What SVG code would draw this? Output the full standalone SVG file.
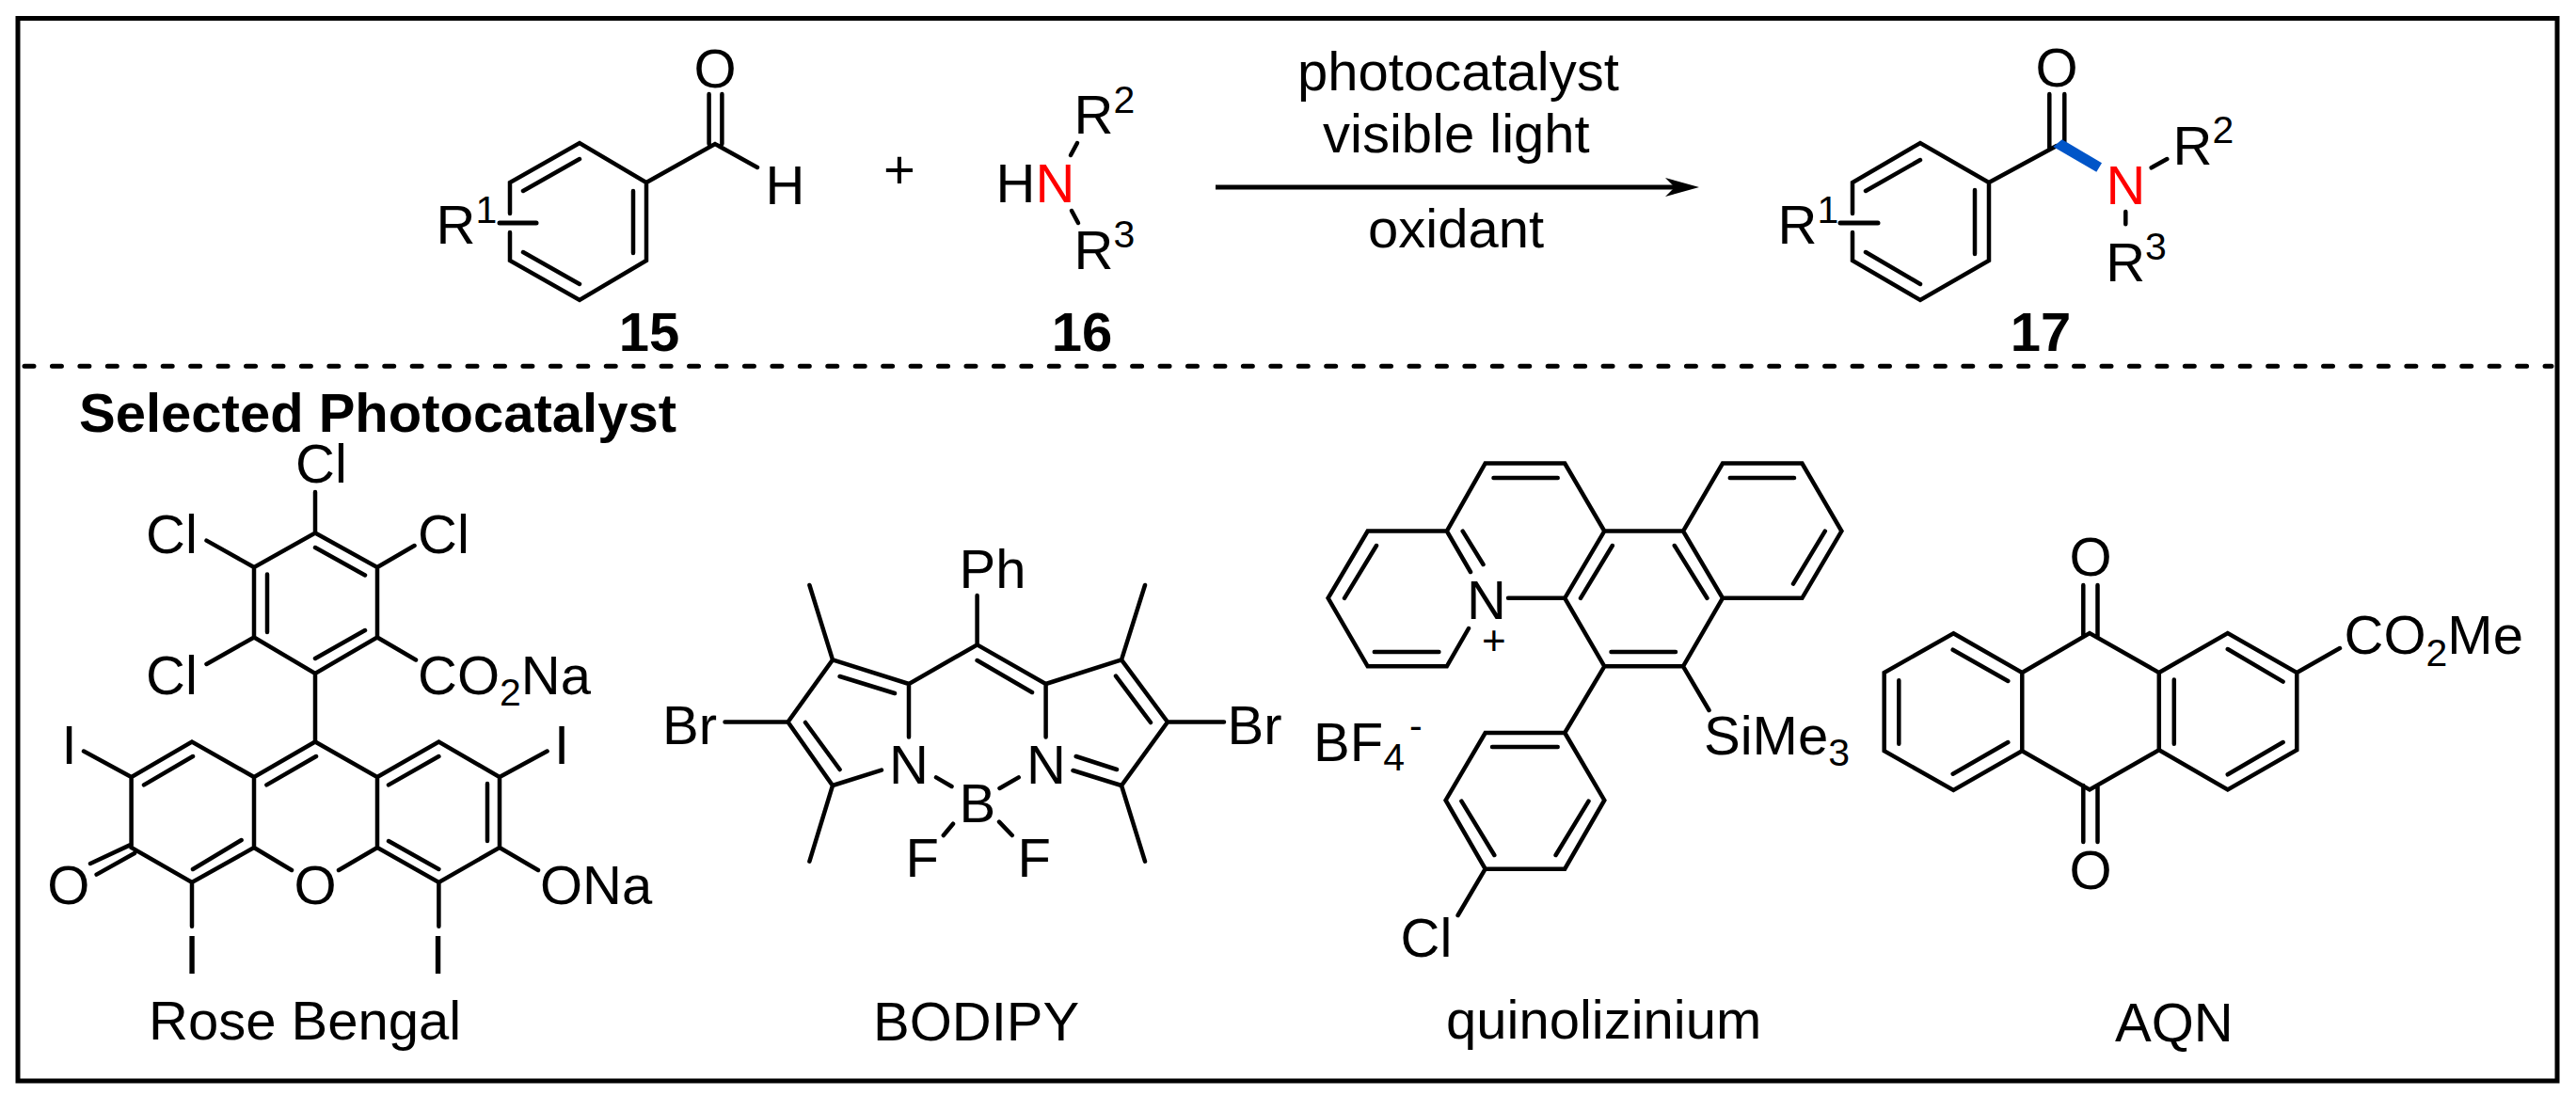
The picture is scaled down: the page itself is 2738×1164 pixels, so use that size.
<svg xmlns="http://www.w3.org/2000/svg" width="2738" height="1164" viewBox="0 0 2738 1164">
<style>
text{font-family:"Liberation Sans",Arial,sans-serif;font-size:58px;fill:#000}
.m{text-anchor:middle}
.s{font-size:41px}
.lab{font-weight:bold;text-anchor:middle}
.red{fill:#f00}
.b{fill:none;stroke:#000;stroke-width:4.5;stroke-linecap:round;stroke-linejoin:miter}
.thick{fill:none;stroke:#000;stroke-width:5;stroke-linecap:round}
</style>
<defs>
<marker id="head" markerUnits="userSpaceOnUse" markerWidth="40" markerHeight="24" refX="10" refY="12" viewBox="0 0 40 24" orient="auto"><path d="M0 2L36 12L0 22L10 12Z" fill="#000"/></marker>
</defs>
<rect width="2738" height="1164" fill="#fff"/>
<g id="frame">
<rect x="19" y="19.5" width="2699" height="1129.5" fill="none" stroke="#000" stroke-width="5"/>
<line x1="26" y1="389.3" x2="2712" y2="389.3" stroke="#000" stroke-width="5" stroke-linecap="round" stroke-dasharray="10 19.44"/>
</g>
<g id="connectors">
<line x1="1292" y1="199" x2="1780" y2="199" stroke="#000" stroke-width="5.2" marker-end="url(#head)"/>
<text x="1379" y="96">photocatalyst</text>
<text x="1406" y="162">visible light</text>
<text x="1454" y="263">oxidant</text>
</g>
<g id="compound-15">
<path class="b" d="M542 227V194L616 152L687 194V277L616 319L542 277V247M556 203L616 169M673 203V269M556 268L616 302M687 194L760 153L805 178M753.6 100V153M767.4 100V153"/>
<path class="thick" d="M531 237H570"/>
<text class="m" x="760" y="93">O</text>
<text x="813.5" y="217">H</text>
<text x="463.5" y="259">R<tspan class="s" dy="-22">1</tspan></text>
<text class="lab" x="690" y="373">15</text>
</g>
<g id="plus"><text class="m" x="956" y="200">+</text></g>
<g id="compound-16">
<path class="b" d="M1138 165L1145 152M1139 224L1146 237"/>
<text x="1058.5" y="215">H<tspan class="red">N</tspan></text>
<text x="1141.5" y="142">R<tspan class="s" dy="-22">2</tspan></text>
<text x="1141.5" y="286">R<tspan class="s" dy="-23">3</tspan></text>
<text class="lab" x="1150" y="373">16</text>
</g>
<g id="compound-17">
<path class="b" d="M1969 227V194L2041 152L2114 194V277L2041 319L1969 277V247M1983 203L2041 170M2099 202V270M1983 268L2041 302M2114 194L2186 155M2178.3 100V158M2194.3 100V158M2286.7 178.3L2303.3 169M2259.3 225V238.3"/>
<path class="thick" d="M1956 237H1996"/>
<polygon points="2182.3,156 2191.7,148.3 2234,173.3 2228.3,182.7" fill="#0055c8"/>
<text class="m" x="2186" y="92">O</text>
<text class="red" x="2238.5" y="216.7">N</text>
<text x="1889.5" y="259">R<tspan class="s" dy="-22">1</tspan></text>
<text x="2309.5" y="175">R<tspan class="s" dy="-23">2</tspan></text>
<text x="2238.2" y="299">R<tspan class="s" dy="-23">3</tspan></text>
<text class="lab" x="2169" y="373">17</text>
</g>
<g id="selected-title"><text x="84" y="459" font-weight="bold">Selected Photocatalyst</text></g>
<g id="rose-bengal">
<path class="b" d="M335 566.5L401 603V677.5L335 716L270 677.5V603ZM335 582L388 611.5M284 610.5V672M335 700L388 670M335 523V566.5M219.5 574.6L270 603M401 603L440.5 580M219.5 706L270 677.5M401 677.5L442 701.5M335 716V788.5"/>
<path class="b" d="M335 788.5L270 826V901L204 938L139.6 901V826L204 788.5L270 826M335 788.5L401 826V901L466.4 938L531 901V826L466.4 788.5L401 826M270 901L310 925M401 901L360 925M153 834.4L205 804M283.4 834.4L336 804M205 924L256.6 893M413 834.4L466.4 804M518 833V894M413 894L466.4 924M139.6 897.6L96 918M143 907L102.6 929.6M89 798.6L139.6 826M531 826L581.6 798.6M204 938V984.7M466.4 938V984.7M531 901L572 925"/>
<text x="314" y="513">Cl</text>
<text x="155" y="588">Cl</text>
<text x="444" y="588">Cl</text>
<text x="155" y="738">Cl</text>
<text x="444" y="738">CO<tspan class="s" dy="12">2</tspan><tspan dy="-12">Na</tspan></text>
<text class="m" x="73.6" y="811.5">I</text>
<text class="m" x="597" y="811.5">I</text>
<text class="m" x="204" y="1035">I</text>
<text class="m" x="465.5" y="1035">I</text>
<text class="m" x="335" y="961">O</text>
<text class="m" x="72.7" y="961">O</text>
<text x="574" y="961">ONa</text>
<text x="158" y="1105">Rose Bengal</text>
</g>
<g id="bodipy">
<path class="b" d="M1038.6 633V685.4L966 727V783.6M1038.6 685.4L1111.6 727V783.6M966 727L885 701.4L837.5 767.5L885 835L937 818.6M1111.6 727L1192 701.4L1241 767.5L1192 835L1140.5 819M1187 818L1143.7 804M892.6 719L951 737M1038.6 702L1097 736M1186 718.6L1223 768M856 768L892.6 818M770.5 767.5H837.5M1241 767.5H1301M885 701.4L860.4 622M1192 701.4L1217 622M885 835L860.4 915.7M1192 835L1217 915.7M995 826.4L1011.5 836M1082.7 826.4L1062.5 838M1013 875.7L1002.8 888M1062 873.6L1075.8 888"/>
<text x="1019.5" y="624.6">Ph</text>
<text x="704" y="791.4">Br</text>
<text x="1304.5" y="791.4">Br</text>
<text class="m" x="966" y="832.5">N</text>
<text class="m" x="1112" y="832.5">N</text>
<text x="1019.5" y="873.6">B</text>
<text x="962.5" y="932">F</text>
<text x="1081.5" y="932">F</text>
<text x="928" y="1106">BODIPY</text>
</g>
<g id="quinolizinium">
<path class="b" d="M1563 608L1537.8 564.6H1453.7L1411.6 635.8L1453.7 708.3H1537.8L1561 668M1537.8 564.6L1578.7 492.5H1663.2L1705.3 564.6L1663.2 635.8H1603M1705.3 564.6H1789L1831 635.8L1789 708.3H1705.3L1663.2 635.8M1789 564.6L1831 492.5H1915.4L1957.4 564.6L1915.4 635.8H1831M1554.7 564.6L1576.5 600M1463 580L1429 635.8M1460.8 693H1529.4M1587.5 508H1655.7M1713.8 580L1680 635.8M1779.8 580L1814.4 635.8M1712.5 693H1781M1838.8 508H1907M1939.8 564.6L1906 620.6M1705.3 708.3L1663.2 779H1578.7L1536.6 850.7L1578.7 923.7H1663.2L1705.3 850.7L1663.2 779M1586 794H1655.7M1553.4 851.6L1588.3 909M1688.5 851.6L1653.6 909M1578.7 923.7L1549.6 973M1789 708.3L1816.5 755"/>
<text class="m" x="1580" y="658">N</text>
<text x="1575" y="696" style="font-size:44px">+</text>
<text x="1396" y="809">BF<tspan class="s" dy="10">4</tspan><tspan class="s" dy="-34" dx="5">-</tspan></text>
<text x="1811" y="802">SiMe<tspan class="s" dy="12">3</tspan></text>
<text x="1488.5" y="1017">Cl</text>
<text x="1537" y="1104">quinolizinium</text>
</g>
<g id="aqn">
<path class="b" d="M2076.3 673.3L2149.3 715V798.3L2076.3 840L2002.7 798.3V715ZM2018.3 723.3V790.7M2075.7 690.7L2134.3 724M2075.7 822.7L2134.3 789M2149.3 715L2221 673L2294.8 715V797.3L2221 839.4L2149.3 798.3M2294.8 715L2367.8 673L2441.3 715V797.3L2367.8 839.4L2294.8 797.3M2310.8 722.6V790.8M2367.8 690L2426.6 724.6M2367.8 823.3L2426.6 789M2441.3 715L2487 689M2214.3 622V676.7M2229.5 622V676.7M2214.3 835V895M2229.5 835V895"/>
<text class="m" x="2222" y="612">O</text>
<text class="m" x="2222" y="944.6">O</text>
<text x="2491.5" y="695">CO<tspan class="s" dy="13">2</tspan><tspan dy="-13">Me</tspan></text>
<text x="2248" y="1106.5">AQN</text>
</g>
</svg>
